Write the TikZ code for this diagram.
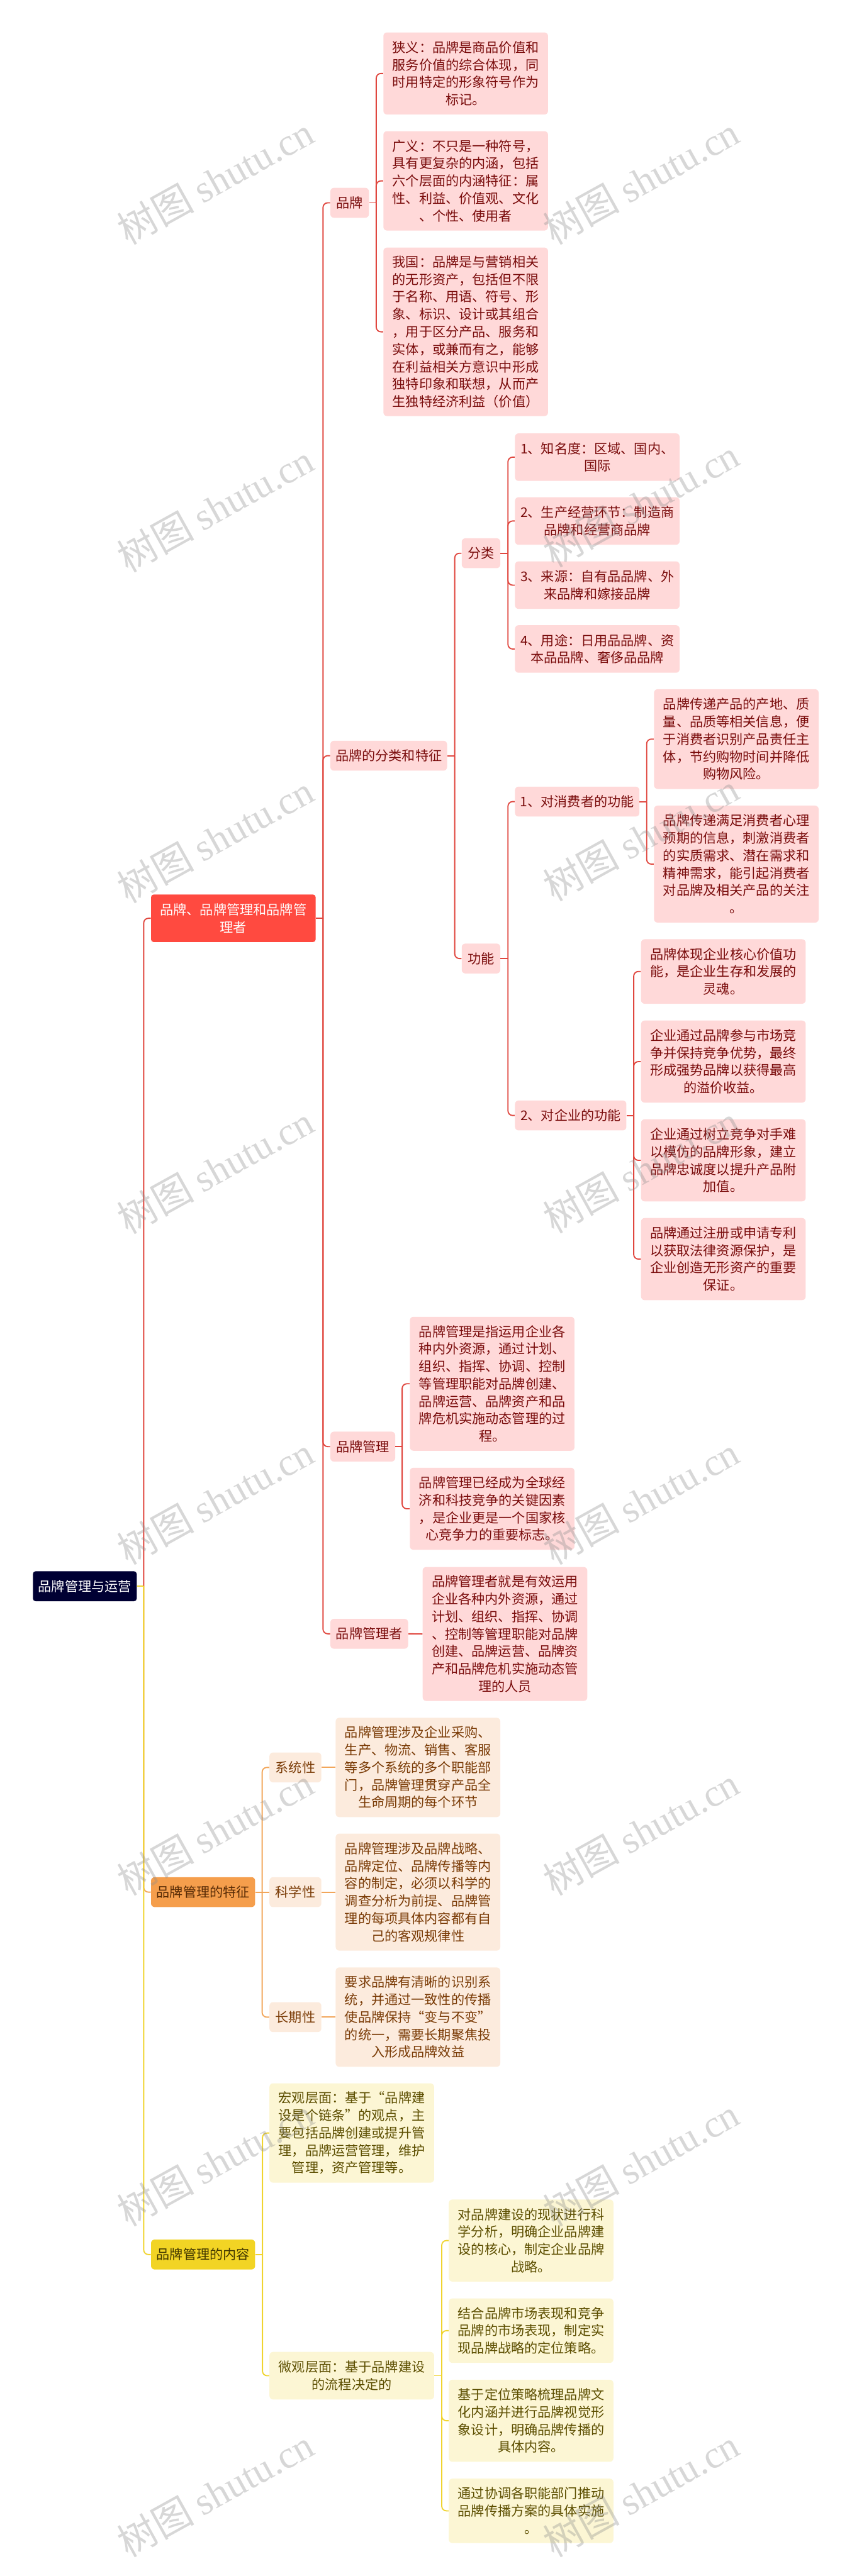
\documentclass[tikz,border=0pt]{standalone}
\usepackage{fontspec}
\setmainfont{Noto Sans CJK SC}
\newfontfamily\markfont{Liberation Serif}
\usepackage{tikz}

\definecolor{rootfill}{HTML}{000033}
\definecolor{redmain}{HTML}{FF4A40}
\definecolor{redsoft}{HTML}{FFD9D9}
\definecolor{redtext}{HTML}{7A0C0C}
\definecolor{redline}{HTML}{E0473F}
\definecolor{orgmain}{HTML}{F59E4C}
\definecolor{orgsoft}{HTML}{FCEBDD}
\definecolor{orgtext}{HTML}{7A3B06}
\definecolor{orgline}{HTML}{F2A65A}
\definecolor{yelmain}{HTML}{F2D424}
\definecolor{yelsoft}{HTML}{FCF6D4}
\definecolor{yeltext}{HTML}{5C4E00}
\definecolor{yelline}{HTML}{F0D430}

\tikzset{
    box/.style={inner sep=0pt, rounded corners=.11cm, align=center, minimum height=.9cm, font=\fontsize{11.38}{14.94}\selectfont},
    rootbox/.style={box, fill=rootfill, text=white, rounded corners=.08cm},
    redtop/.style={box, fill=redmain, text=white, rounded corners=.08cm},
    orgtop/.style={box, fill=orgmain, text=orgtext!70!black},
    yeltop/.style={box, fill=yelmain, text=yeltext!70!black},
    redbox/.style={box, fill=redsoft, text=redtext},
    orgbox/.style={box, fill=orgsoft, text=orgtext},
    yelbox/.style={box, fill=yelsoft, text=yeltext},
    redwire/.style={draw=redline, line width=1pt, rounded corners=.14cm},
    orgwire/.style={draw=orgline, line width=1pt, rounded corners=.14cm},
    yelwire/.style={draw=yelline, line width=1pt, rounded corners=.14cm},
    markbox/.style={text=black!45, opacity=.35, rotate=29, font=\fontsize{33}{33}\selectfont},
}

\begin{document}
\begin{tikzpicture}
        \useasboundingbox (0,0) rectangle (25.6,-77.48);

        \coordinate (rootbus)  at (4.32,-47.71);
        \coordinate (redbus)   at (9.71,-27.62);
        \coordinate (brandbus) at (11.31,-6.10);
        \coordinate (catbus)   at (13.67,-22.73);
        \coordinate (kindbus)  at (15.27,-16.64);
        \coordinate (usebus)   at (15.27,-28.83);
        \coordinate (usebusa)  at (19.44,-24.11);
        \coordinate (usebusb)  at (19.05,-33.55);
        \coordinate (mgmtbus)  at (12.09,-43.51);
        \coordinate (orgbus)   at (7.88,-56.91);
        \coordinate (yelbus)   at (7.89,-67.81);
        \coordinate (weibus)   at (13.28,-71.455);

        \node[rootbox, minimum width=3.12cm] (root) at (2.55,-47.71) {品牌管理与运营};

        \node[redtop, minimum width=4.95cm, minimum height=1.43cm] (redmain) at (7.015,-27.62) {品牌、品牌管理和品牌管\\理者};
        \node[orgtop, minimum width=3.13cm] (orgmain) at (6.105,-56.91) {品牌管理的特征};
        \node[yeltop, minimum width=3.13cm] (yelmain) at (6.105,-67.81) {品牌管理的内容};

        \node[redbox, minimum width=1.16cm]  (brand) at (10.51,-6.10)    {品牌};
        \node[redbox, minimum width=3.51cm]  (cat)   at (11.685,-22.73)  {品牌的分类和特征};
        \node[redbox, minimum width=1.95cm]  (mgmt)  at (10.905,-43.51)  {品牌管理};
        \node[redbox, minimum width=2.34cm]  (mgr)   at (11.10,-49.14)   {品牌管理者};

        \node[redbox, minimum width=4.95cm, minimum height=2.47cm] (narrow) at (14.00,-2.21) {狭义：品牌是商品价值和\\服务价值的综合体现，同\\时用特定的形象符号作为\\标记。};
        \node[redbox, minimum width=4.95cm, minimum height=2.99cm] (broad)  at (14.00,-5.44) {广义：不只是一种符号，\\具有更复杂的内涵，包括\\六个层面的内涵特征：属\\性、利益、价值观、文化\\、个性、使用者};
        \node[redbox, minimum width=4.95cm, minimum height=5.07cm] (china)  at (14.00,-9.98) {我国：品牌是与营销相关\\的无形资产，包括但不限\\于名称、用语、符号、形\\象、标识、设计或其组合\\，用于区分产品、服务和\\实体，或兼而有之，能够\\在利益相关方意识中形成\\独特印象和联想，从而产\\生独特经济利益（价值）};

        \node[redbox, minimum width=1.16cm] (kind) at (14.46,-16.64) {分类};
        \node[redbox, minimum width=1.16cm] (use)  at (14.46,-28.83) {功能};

        \node[redbox, minimum width=4.95cm, minimum height=1.43cm] (kinda) at (17.955,-13.75) {1、知名度：区域、国内、\\国际};
        \node[redbox, minimum width=4.95cm, minimum height=1.43cm] (kindb) at (17.955,-15.67) {2、生产经营环节：制造商\\品牌和经营商品牌};
        \node[redbox, minimum width=4.95cm, minimum height=1.43cm] (kindc) at (17.955,-17.60) {3、来源：自有品品牌、外\\来品牌和嫁接品牌};
        \node[redbox, minimum width=4.95cm, minimum height=1.43cm] (kindd) at (17.955,-19.52) {4、用途：日用品品牌、资\\本品品牌、奢侈品品牌};

        \node[redbox, minimum width=3.74cm] (usea) at (17.35,-24.11)  {1、对消费者的功能};
        \node[redbox, minimum width=3.35cm] (useb) at (17.155,-33.55) {2、对企业的功能};

        \node[redbox, minimum width=4.95cm, minimum height=3.00cm] (buyera) at (22.135,-22.23) {品牌传递产品的产地、质\\量、品质等相关信息，便\\于消费者识别产品责任主\\体，节约购物时间并降低\\购物风险。};
        \node[redbox, minimum width=4.95cm, minimum height=3.52cm] (buyerb) at (22.135,-25.99) {品牌传递满足消费者心理\\预期的信息，刺激消费者\\的实质需求、潜在需求和\\精神需求，能引起消费者\\对品牌及相关产品的关注\\。};

        \node[redbox, minimum width=4.95cm, minimum height=1.94cm] (firma) at (21.745,-29.22) {品牌体现企业核心价值功\\能，是企业生存和发展的\\灵魂。};
        \node[redbox, minimum width=4.95cm, minimum height=2.47cm] (firmb) at (21.745,-31.93) {企业通过品牌参与市场竞\\争并保持竞争优势，最终\\形成强势品牌以获得最高\\的溢价收益。};
        \node[redbox, minimum width=4.95cm, minimum height=2.47cm] (firmc) at (21.745,-34.90) {企业通过树立竞争对手难\\以模仿的品牌形象，建立\\品牌忠诚度以提升产品附\\加值。};
        \node[redbox, minimum width=4.95cm, minimum height=2.47cm] (firmd) at (21.745,-37.87) {品牌通过注册或申请专利\\以获取法律资源保护，是\\企业创造无形资产的重要\\保证。};

        \node[redbox, minimum width=4.95cm, minimum height=4.03cm] (mgmta) at (14.795,-41.62) {品牌管理是指运用企业各\\种内外资源，通过计划、\\组织、指挥、协调、控制\\等管理职能对品牌创建、\\品牌运营、品牌资产和品\\牌危机实施动态管理的过\\程。};
        \node[redbox, minimum width=4.95cm, minimum height=2.47cm] (mgmtb) at (14.795,-45.38) {品牌管理已经成为全球经\\济和科技竞争的关键因素\\，是企业更是一个国家核\\心竞争力的重要标志。};
        \node[redbox, minimum width=4.95cm, minimum height=4.03cm] (mgra)  at (15.18,-49.145) {品牌管理者就是有效运用\\企业各种内外资源，通过\\计划、组织、指挥、协调\\、控制等管理职能对品牌\\创建、品牌运营、品牌资\\产和品牌危机实施动态管\\理的人员};

        \node[orgbox, minimum width=1.56cm] (sys)  at (8.88,-53.16) {系统性};
        \node[orgbox, minimum width=1.56cm] (sci)  at (8.88,-56.91) {科学性};
        \node[orgbox, minimum width=1.56cm] (long) at (8.88,-60.67) {长期性};

        \node[orgbox, minimum width=4.95cm, minimum height=2.99cm] (sysa)  at (12.565,-53.16) {品牌管理涉及企业采购、\\生产、物流、销售、客服\\等多个系统的多个职能部\\门，品牌管理贯穿产品全\\生命周期的每个环节};
        \node[orgbox, minimum width=4.95cm, minimum height=3.52cm] (scia)  at (12.565,-56.91) {品牌管理涉及品牌战略、\\品牌定位、品牌传播等内\\容的制定，必须以科学的\\调查分析为前提、品牌管\\理的每项具体内容都有自\\己的客观规律性};
        \node[orgbox, minimum width=4.95cm, minimum height=2.99cm] (longa) at (12.565,-60.67) {要求品牌有清晰的识别系\\统，并通过一致性的传播\\使品牌保持“变与不变”\\的统一，需要长期聚焦投\\入形成品牌效益};

        \node[yelbox, minimum width=4.95cm, minimum height=2.99cm] (macro) at (10.575,-64.155) {宏观层面：基于“品牌建\\设是个链条”的观点，主\\要包括品牌创建或提升管\\理，品牌运营管理，维护\\管理，资产管理等。};
        \node[yelbox, minimum width=4.95cm, minimum height=1.43cm] (micro) at (10.575,-71.455) {微观层面：基于品牌建设\\的流程决定的};

        \node[yelbox, minimum width=4.95cm, minimum height=2.47cm] (stepa) at (15.965,-67.39) {对品牌建设的现状进行科\\学分析，明确企业品牌建\\设的核心，制定企业品牌\\战略。};
        \node[yelbox, minimum width=4.95cm, minimum height=1.94cm] (stepb) at (15.965,-70.10) {结合品牌市场表现和竞争\\品牌的市场表现，制定实\\现品牌战略的定位策略。};
        \node[yelbox, minimum width=4.95cm, minimum height=2.47cm] (stepc) at (15.965,-72.81) {基于定位策略梳理品牌文\\化内涵并进行品牌视觉形\\象设计，明确品牌传播的\\具体内容。};
        \node[yelbox, minimum width=4.95cm, minimum height=1.94cm] (stepd) at (15.965,-75.52) {通过协调各职能部门推动\\品牌传播方案的具体实施\\。};

        \draw[orgwire] (rootbus) |- (orgmain.west);
        \draw[redwire] (rootbus) |- (redmain.west);
        \draw[yelwire] (rootbus) |- (yelmain.west);
        \draw[yelwire] (root.east) -- (rootbus);

        \draw[redwire] (redmain.east) -- (redbus);
        \draw[redwire] (redbus) |- (brand.west);
        \draw[redwire] (redbus) |- (cat.west);
        \draw[redwire] (redbus) |- (mgmt.west);
        \draw[redwire] (redbus) |- (mgr.west);

        \draw[redwire] (brand.east) -- (brandbus);
        \draw[redwire] (brandbus) |- (narrow.west);
        \draw[redwire] (brandbus) |- (broad.west);
        \draw[redwire] (brandbus) |- (china.west);

        \draw[redwire] (cat.east) -- (catbus);
        \draw[redwire] (catbus) |- (kind.west);
        \draw[redwire] (catbus) |- (use.west);

        \draw[redwire] (kind.east) -- (kindbus);
        \draw[redwire] (kindbus) |- (kinda.west);
        \draw[redwire] (kindbus) |- (kindb.west);
        \draw[redwire] (kindbus) |- (kindc.west);
        \draw[redwire] (kindbus) |- (kindd.west);

        \draw[redwire] (use.east) -- (usebus);
        \draw[redwire] (usebus) |- (usea.west);
        \draw[redwire] (usebus) |- (useb.west);

        \draw[redwire] (usea.east) -- (usebusa);
        \draw[redwire] (usebusa) |- (buyera.west);
        \draw[redwire] (usebusa) |- (buyerb.west);

        \draw[redwire] (useb.east) -- (usebusb);
        \draw[redwire] (usebusb) |- (firma.west);
        \draw[redwire] (usebusb) |- (firmb.west);
        \draw[redwire] (usebusb) |- (firmc.west);
        \draw[redwire] (usebusb) |- (firmd.west);

        \draw[redwire] (mgmt.east) -- (mgmtbus);
        \draw[redwire] (mgmtbus) |- (mgmta.west);
        \draw[redwire] (mgmtbus) |- (mgmtb.west);

        \draw[redwire] (mgr.east) -- (mgra.west);

        \draw[orgwire] (orgmain.east) -- (orgbus);
        \draw[orgwire] (orgbus) |- (sys.west);
        \draw[orgwire] (orgbus) -- (sci.west);
        \draw[orgwire] (orgbus) |- (long.west);
        \draw[orgwire] (sys.east) -- (sysa.west);
        \draw[orgwire] (sci.east) -- (scia.west);
        \draw[orgwire] (long.east) -- (longa.west);

        \draw[yelwire] (yelmain.east) -- (yelbus);
        \draw[yelwire] (yelbus) |- (macro.west);
        \draw[yelwire] (yelbus) |- (micro.west);

        \draw[yelwire] (micro.east) -- (weibus);
        \draw[yelwire] (weibus) |- (stepa.west);
        \draw[yelwire] (weibus) |- (stepb.west);
        \draw[yelwire] (weibus) |- (stepc.west);
        \draw[yelwire] (weibus) |- (stepd.west);

        \node[markbox] (marka) at (6.47,-5.43)  {树图 {\markfont shutu.cn}};     \node[markbox] (markb) at (19.27,-5.43)  {树图 {\markfont shutu.cn}};
        \node[markbox] (markc) at (6.47,-15.28) {树图 {\markfont shutu.cn}};     \node[markbox] (markd) at (19.27,-15.13) {树图 {\markfont shutu.cn}};
        \node[markbox] (marke) at (6.47,-25.23) {树图 {\markfont shutu.cn}};     \node[markbox] (markf) at (19.27,-25.18) {树图 {\markfont shutu.cn}};
        \node[markbox] (markg) at (6.47,-35.18) {树图 {\markfont shutu.cn}};     \node[markbox] (markh) at (19.27,-35.17) {树图 {\markfont shutu.cn}};
        \node[markbox] (marki) at (6.47,-45.13) {树图 {\markfont shutu.cn}};     \node[markbox] (markj) at (19.27,-45.13) {树图 {\markfont shutu.cn}};
        \node[markbox] (markk) at (6.47,-55.08) {树图 {\markfont shutu.cn}};     \node[markbox] (markl) at (19.27,-55.08) {树图 {\markfont shutu.cn}};
        \node[markbox] (markm) at (6.47,-65.03) {树图 {\markfont shutu.cn}};     \node[markbox] (markn) at (19.27,-65.03) {树图 {\markfont shutu.cn}};
        \node[markbox] (marko) at (6.47,-74.98) {树图 {\markfont shutu.cn}};     \node[markbox] (markp) at (19.27,-74.98) {树图 {\markfont shutu.cn}};
\end{tikzpicture}
\end{document}
